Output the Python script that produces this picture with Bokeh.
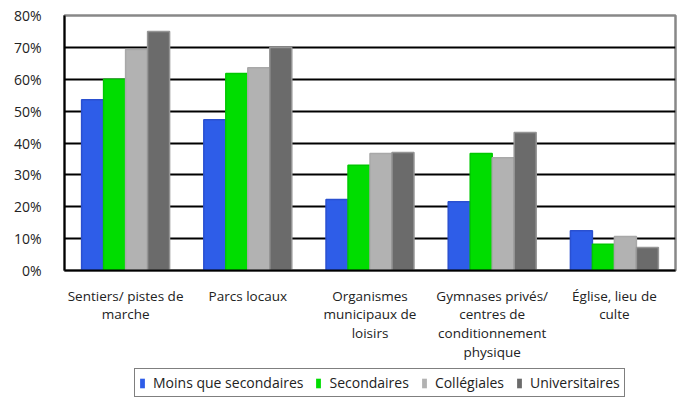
from bokeh.plotting import figure
from bokeh.layouts import column
from bokeh.models import FactorRange, Range1d, NumeralTickFormatter, FixedTicker, Legend, LegendItem
from bokeh.transform import dodge
from bokeh.embed import file_html
from bokeh.resources import INLINE

categories = ["Sentiers/ pistes de\nmarche", "Parcs locaux",
              "Organismes\nmunicipaux de\nloisirs",
              "Gymnases privés/\ncentres de\nconditionnement\nphysique",
              "Église, lieu de\nculte"]
series_names = ["Moins que secondaires", "Secondaires", "Collégiales", "Universitaires"]
moins = [0.536, 0.473, 0.223, 0.216, 0.125]
secondaires = [0.600, 0.618, 0.330, 0.367, 0.082]
collegiales = [0.693, 0.636, 0.367, 0.354, 0.107]
universitaires = [0.750, 0.700, 0.370, 0.433, 0.072]
y_ticks = [0, 0.1, 0.2, 0.3, 0.4, 0.5, 0.6, 0.7, 0.8]

colors = ["#2e5de8", "#00dd00", "#b2b2b2", "#6b6b6b"]
borders = ["#2a50d0", "#00c800", "#a8a8a8", "#959595"]
offsets = [-0.27, -0.09, 0.09, 0.27]

FONT = "Open Sans"
TXT = "#222222"

p = figure(width=680, height=368, x_range=FactorRange(*categories), y_range=Range1d(0, 0.8),
           output_backend="svg", toolbar_location=None,
           min_border_left=64, min_border_right=5, min_border_top=15, min_border_bottom=98)

data = dict(cat=categories, s0=moins, s1=secondaires, s2=collegiales, s3=universitaires)
for i, name in enumerate(series_names):
    p.vbar(x=dodge("cat", offsets[i], range=p.x_range), top="s%d" % i, width=0.18,
           source=data, fill_color=colors[i], line_color=borders[i], line_width=1.5)

p.yaxis.ticker = FixedTicker(ticks=y_ticks)
p.yaxis.formatter = NumeralTickFormatter(format="0%")
p.yaxis.major_tick_line_color = None
p.yaxis.minor_tick_line_color = None
p.yaxis.axis_line_color = "black"
p.yaxis.axis_line_width = 2
p.yaxis.major_label_text_font = FONT
p.yaxis.major_label_text_font_size = "14px"
p.yaxis.major_label_text_color = TXT
p.yaxis.major_label_standoff = 17

p.xaxis.major_tick_line_color = None
p.xaxis.axis_line_color = "black"
p.xaxis.axis_line_width = 2
p.xaxis.major_label_text_font = FONT
p.xaxis.major_label_text_font_size = "13.5px"
p.xaxis.major_label_text_color = TXT
p.xaxis.major_label_text_line_height = 1.05
p.xaxis.major_label_standoff = 10

p.xgrid.grid_line_color = None
p.ygrid.grid_line_color = "black"
p.ygrid.grid_line_width = 2

p.outline_line_color = "#888888"
p.outline_line_width = 2.5

# legend strip below the chart
p2 = figure(width=680, height=32, x_range=Range1d(0, 1), y_range=Range1d(0, 1),
            output_backend="svg", toolbar_location=None,
            x_axis_location=None, y_axis_location=None,
            min_border_left=64, min_border_right=5, min_border_top=0, min_border_bottom=0)
p2.outline_line_color = None
p2.xgrid.grid_line_color = None
p2.ygrid.grid_line_color = None
items = []
for i, name in enumerate(series_names):
    r = p2.vbar(x=[0.5], top=[0], bottom=[0], width=0, fill_color=colors[i], line_color=None)
    items.append(LegendItem(label=name, renderers=[r]))
legend = Legend(items=items, orientation="horizontal", location=(70, 3),
                label_text_font=FONT, label_text_font_size="14px", label_text_color=TXT,
                glyph_width=6, glyph_height=12, label_standoff=8, spacing=12,
                label_height=18, border_line_color="black", border_line_width=1.5,
                padding=4, margin=0)
p2.add_layout(legend)

layout = column(p, p2, spacing=0)
open("out.html", "w").write(file_html(layout, INLINE))
